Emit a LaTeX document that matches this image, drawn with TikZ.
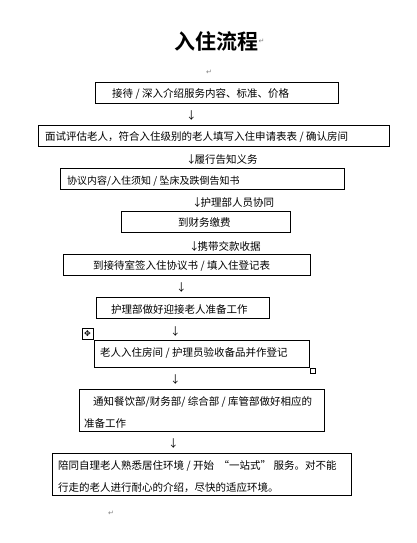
\documentclass[tikz,border=0pt]{standalone}
\usepackage{fontspec}
\setmainfont{Noto Sans CJK SC}
\newfontfamily\cjkb{Noto Sans CJK SC}[BoldFont={* Bold}]
\newfontfamily\symf{DejaVu Sans}
\begin{document}
\begin{tikzpicture}[x=1pt,y=-1pt,
  box/.style={draw=black,line width=1pt,inner sep=0pt},
  txt/.style={anchor=west,inner sep=0pt,font=\fontsize{10.5}{13}\selectfont},
  arr/.style={anchor=west,inner sep=0pt,font=\fontsize{10.5}{13}\selectfont},
  pmark/.style={inner sep=0pt,text=gray,font=\symf\fontsize{7}{8}\selectfont}]
\useasboundingbox[fill=white] (0,0) rectangle (416,543);
% title
\node[inner sep=0pt,anchor=west,font=\cjkb\bfseries\fontsize{21}{24}\selectfont] (title) at (174,41) {入住流程};
\node[pmark,anchor=west] (m1) at (title.east) {↵};
\node[pmark] (m2) at (209,72) {↵};
% box 1
\node[box,minimum width=243pt,minimum height=21pt] (b1) at (216.5,92.5) {};
\node[txt] (t1) at (112,94) {接待 / 深入介绍服务内容、标准、价格};
\node[arr] (a1) at (186,116) {↓};
% box 2
\node[box,minimum width=351pt,minimum height=21pt] (b2) at (213.5,136) {};
\node[txt] (t2) at (45,137) {面试评估老人，符合入住级别的老人填写入住申请表表 / 确认房间};
\node[arr] (a2) at (186,160) {↓\kern-2pt 履行告知义务};
% box 3
\node[box,minimum width=284pt,minimum height=21pt] (b3) at (202,179) {};
\node[txt,font=\fontsize{10}{12}\selectfont] (t3) at (67,181) {协议内容/入住须知 / 坠床及跌倒告知书};
\node[arr] (a3) at (192,203) {↓\kern-2pt 护理部人员协同};
% box 4
\node[box,minimum width=169pt,minimum height=21pt] (b4) at (205.5,221.5) {};
\node[txt] (t4) at (178,223) {到财务缴费};
\node[arr] (a4) at (189,246) {↓\kern-2pt 携带交款收据};
% box 5
\node[box,minimum width=247pt,minimum height=21pt] (b5) at (186.5,264.5) {};
\node[txt] (t5) at (93,266) {到接待室签入住协议书 / 填入住登记表};
\node[arr] (a5) at (176,288) {↓};
% box 6
\node[box,minimum width=173pt,minimum height=21pt] (b6) at (182.5,307.5) {};
\node[txt] (t6) at (111,309) {护理部做好迎接老人准备工作};
% move handle
\node[draw=black,line width=0.6pt,minimum size=11pt,inner sep=0pt,font=\symf\fontsize{8}{8}\selectfont] (h) at (87.5,333.5) {✥};
\node[arr] (a6) at (170,332) {↓};
% box 7
\node[box,minimum width=215pt,minimum height=27pt] (b7) at (201.5,353.5) {};
\node[txt] (t7) at (100,353) {老人入住房间 / 护理员验收备品并作登记};
\node[draw=black,line width=0.6pt,minimum size=5pt,inner sep=0pt] (sq) at (312.5,371) {};
\node[arr] (a7) at (170,380) {↓};
% box 8
\node[box,minimum width=245pt,minimum height=42pt] (b8) at (201.5,410) {};
\node[txt] (t8a) at (93,402) {通知餐饮部/财务部/ 综合部 / 库管部做好相应的};
\node[txt] (t8b) at (84,423) {准备工作};
\node[arr] (a8) at (168,444) {↓};
% box 9
\node[box,minimum width=299pt,minimum height=42pt] (b9) at (201.5,474) {};
\node[txt] (t9a) at (58,466) {陪同自理老人熟悉居住环境 / 开始 \ “一站式” 服务。对不能};
\node[txt] (t9b) at (58,488) {行走的老人进行耐心的介绍，尽快的适应环境。};
\node[pmark] (m3) at (111,513) {↵};
\end{tikzpicture}
\end{document}
